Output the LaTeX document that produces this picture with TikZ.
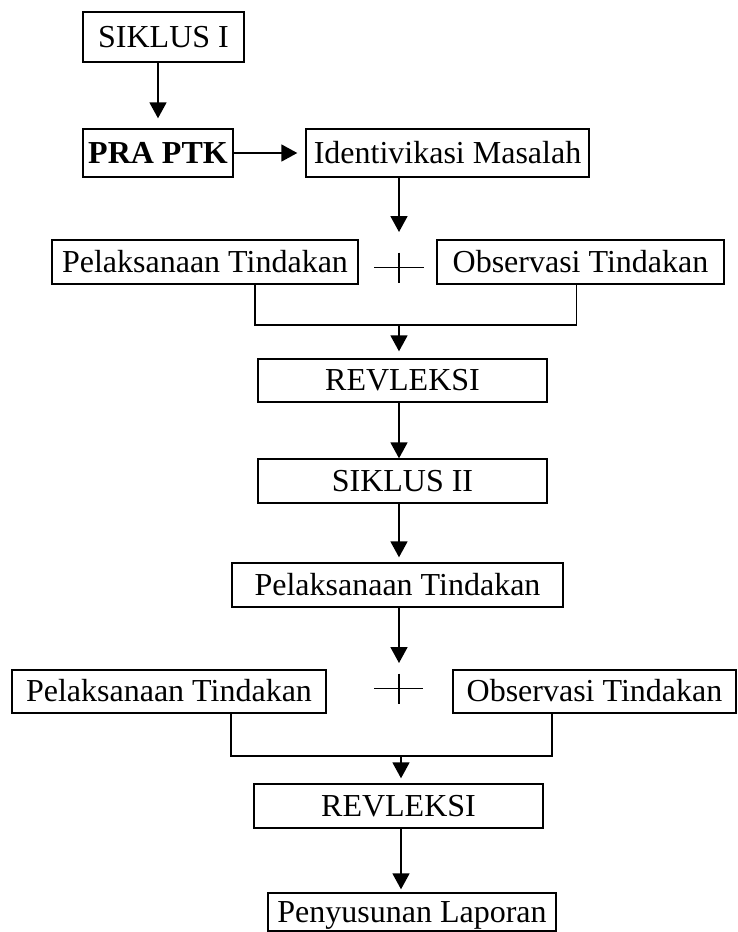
\documentclass[tikz,border=0pt]{standalone}
\usepackage{fontspec}
\setmainfont{Liberation Serif}
\usepackage{tikz}
\usetikzlibrary{arrows.meta,positioning,calc}

\begin{document}
\begin{tikzpicture}[x=1pt,y=-1pt,
    box/.style={draw,line width=1.4pt,inner sep=0pt,text height=22pt,text depth=2pt,
        font=\fontsize{32}{38}\selectfont},
    arr/.style={line width=1.8pt,-{Triangle[length=16pt,width=17pt]}},
    link/.style={line width=1.4pt},
    plus/.style={line width=1.2pt}]
                \useasboundingbox (0,0) rectangle (737,932);
                \node[box,minimum width=161pt,minimum height=50pt] (siklusA) at (163.5,37) {SIKLUS I};
                \node[box,minimum width=150pt,minimum height=48pt,
                    font=\fontsize{32}{38}\selectfont\bfseries] (pra) at (158,153) {PRA PTK};
                \node[box,minimum width=283pt,minimum height=48pt] (ident) at (447.5,153) {Identivikasi Masalah};
                \node[box,minimum width=306pt,minimum height=44pt] (laksA) at (205,262) {Pelaksanaan Tindakan};
                \node[box,minimum width=287pt,minimum height=44pt] (obsA) at (580.5,262) {Observasi Tindakan};
                \node[box,minimum width=289pt,minimum height=43pt] (refA) at (402.5,380.5) {REVLEKSI};
                \node[box,minimum width=289pt,minimum height=44pt] (siklusB) at (402.5,481) {SIKLUS II};
                \node[box,minimum width=331pt,minimum height=44pt] (laksB) at (397.5,585) {Pelaksanaan Tindakan};
                \node[box,minimum width=314pt,minimum height=43pt] (laksC) at (169,691.5) {Pelaksanaan Tindakan};
                \node[box,minimum width=283pt,minimum height=43pt] (obsC) at (594.5,691.5) {Observasi Tindakan};
                \node[box,minimum width=289pt,minimum height=44pt] (refB) at (398.5,806) {REVLEKSI};
                \node[box,minimum width=288pt,minimum height=38pt] (lapor) at (412,912) {Penyusunan Laporan};
                \coordinate (tipA) at (399,232);
                \coordinate (plusA) at (399,267.5);
                \coordinate (joinA) at (399,325);
                \coordinate (tipB) at (399,663);
                \coordinate (plusB) at (399,688.5);
                \coordinate (joinB) at (401,756);
                \draw[arr,shorten >=10pt] (siklusA.south -| pra.north) -- (pra.north);
                \draw[arr,shorten >=8pt] (pra.east) -- (ident.west);
                \draw[arr] (ident.south -| tipA) -- (tipA);
                \draw[plus] ($(plusA)+(-25,0)$) -- ($(plusA)+(25,0)$)
                    ($(plusA)+(0,-15)$) -- ($(plusA)+(0,15)$);
                \draw[link] ([xshift=50pt]laksA.south) |- (joinA) -| ([xshift=-4pt]obsA.south);
                \draw[arr,shorten >=7pt] (joinA) -- (joinA |- refA.north);
                \draw[arr] (refA.south -| joinA) -- (siklusB.north -| joinA);
                \draw[arr,shorten >=5pt] (siklusB.south -| joinA) -- (laksB.north -| joinA);
                \draw[arr] (laksB.south -| tipB) -- (tipB);
                \draw[plus] ($(plusB)+(-25,0)$) -- ($(plusB)+(24,0)$)
                    ($(plusB)+(0,-15)$) -- ($(plusB)+(0,15)$);
                \draw[link] ([xshift=62pt]laksC.south) |- (joinB) -| ([xshift=-42.5pt]obsC.south);
                \draw[arr,shorten >=5pt] (joinB) -- (joinB |- refB.north);
                \draw[arr,shorten >=3pt] (refB.south -| joinB) -- (lapor.north -| joinB);
            \end{tikzpicture}
\end{document}
